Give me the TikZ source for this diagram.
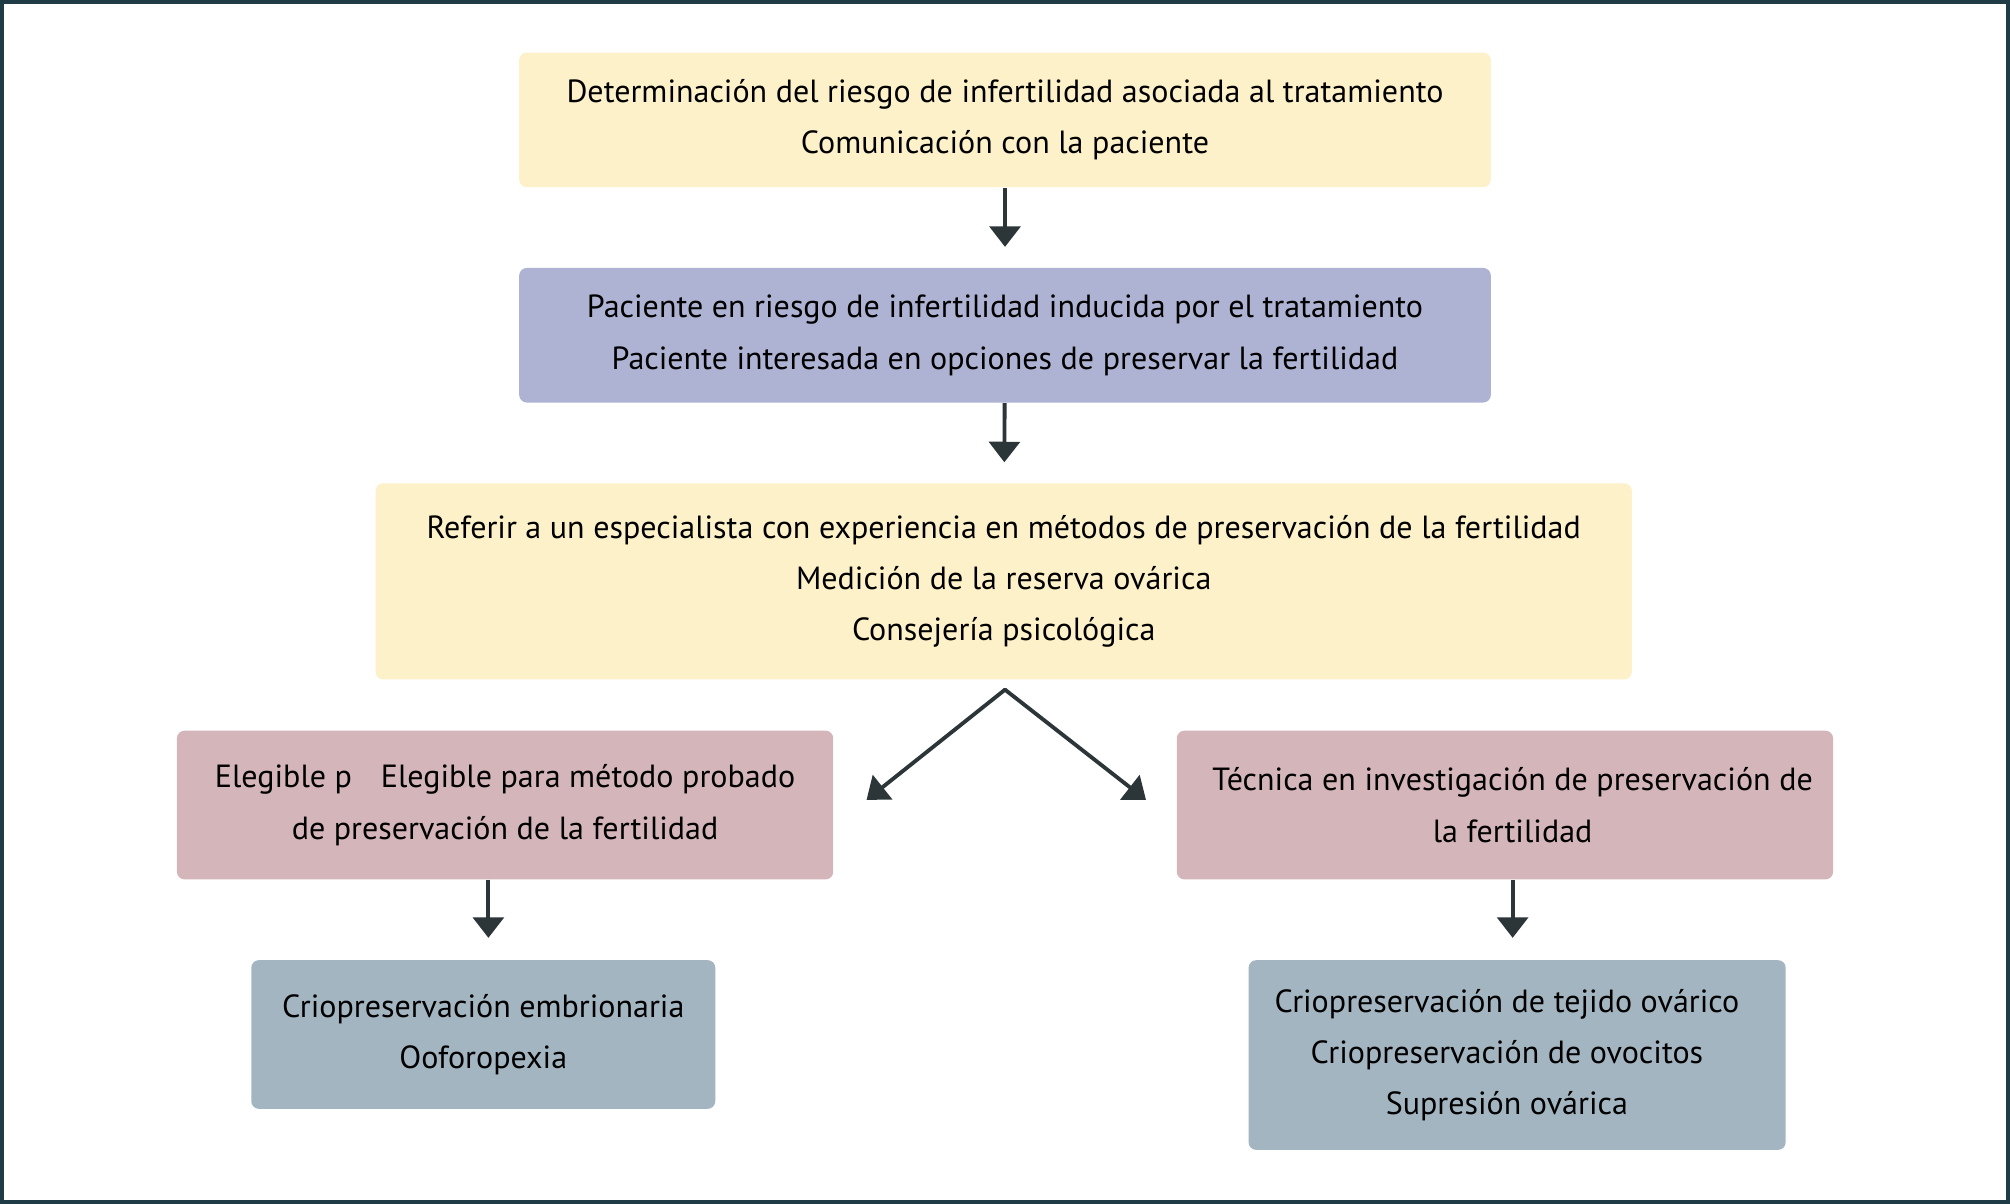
\documentclass[tikz,border=0pt]{standalone}
\usepackage{fontspec}
\setmainfont{PT Sans}
\usetikzlibrary{arrows.meta}
\definecolor{framecol}{HTML}{1F3C46}
\definecolor{arrowcol}{HTML}{2C3538}
\definecolor{paleyellow}{HTML}{FDF1C9}
\definecolor{lavender}{HTML}{AEB3D3}
\definecolor{dustypink}{HTML}{D4B5BA}
\definecolor{bluegray}{HTML}{A3B5C1}
\tikzset{
  box/.style={rounded corners=3pt, inner sep=0pt, align=center,
    font=\fontsize{12.5}{20}\selectfont},
  flow/.style={draw=arrowcol, line width=1.5pt, -{Triangle[length=8pt,width=12pt]}}
}
\begin{document}
\begin{tikzpicture}[x=0.5pt,y=0.5pt,yscale=-1,xscale=1]
        \useasboundingbox (0,0) rectangle (1568,939);
        % Frame
        \draw [framecol, line width=1.5pt, fill=white] (1.5,1.5) rectangle (1566.5,937.5);
        % Text Node
        \node [box, fill=paleyellow, minimum width=379pt, minimum height=52.5pt] (risk) at (784,93.5)
          {Determinación del riesgo de infertilidad asociada al tratamiento\\Comunicación con la paciente};
        % Text Node
        \node [box, fill=lavender, minimum width=379pt, minimum height=52.5pt] (patient) at (784,261.5)
          {Paciente en riesgo de infertilidad inducida por el tratamiento\\Paciente interesada en opciones de preservar la fertilidad};
        % Text Node
        \node [box, fill=paleyellow, minimum width=490pt, minimum height=76.5pt] (refer) at (783,453.5)
          {Referir a un especialista con experiencia en métodos de preservación de la fertilidad\\Medición de la reserva ovárica\\Consejería psicológica};
        % Text Node
        \node [box, fill=dustypink, minimum width=256pt, minimum height=58pt] (proven) at (394,628)
          {Elegible p\hspace{0.9em}Elegible para método probado\\de preservación de la fertilidad};
        % Text Node
        \node [box, fill=dustypink, minimum width=256pt, minimum height=58pt] (research) at (1174,628)
          {\hspace{6pt}Técnica en investigación de preservación de\\\hspace{6pt}la fertilidad};
        % Text Node
        \node [box, fill=bluegray, minimum width=181pt, minimum height=58pt] (embryo) at (377,807)
          {Criopreservación embrionaria\\Ooforopexia};
        % Text Node
        \node [box, fill=bluegray, minimum width=209.5pt, minimum height=74pt] (tissue) at (1183.5,823)
          {\hspace{-8pt}Criopreservación de tejido ovárico\\\hspace{-8pt}Criopreservación de ovocitos\\\hspace{-8pt}Supresión ovárica};
        % Connection
        \draw [flow, shorten >=8pt] (risk) -- (patient);
        % Connection
        \draw [flow, shorten >=8pt] (patient) -- (refer);
        % Connection
        \coordinate (fork) at (784,538);
        \coordinate (forkL) at (676,624);
        \coordinate (forkR) at (894,624);
        \draw [flow, line cap=round] (fork) -- (forkL);
        \draw [flow, line cap=round] (fork) -- (forkR);
        % Connection
        \coordinate (colL) at (381,700);
        \draw [flow, shorten >=8.5pt] (colL |- proven.south) -- (colL |- embryo.north);
        % Connection
        \coordinate (colR) at (1180,700);
        \draw [flow, shorten >=8.5pt] (colR |- research.south) -- (colR |- tissue.north);
\end{tikzpicture}
\end{document}
